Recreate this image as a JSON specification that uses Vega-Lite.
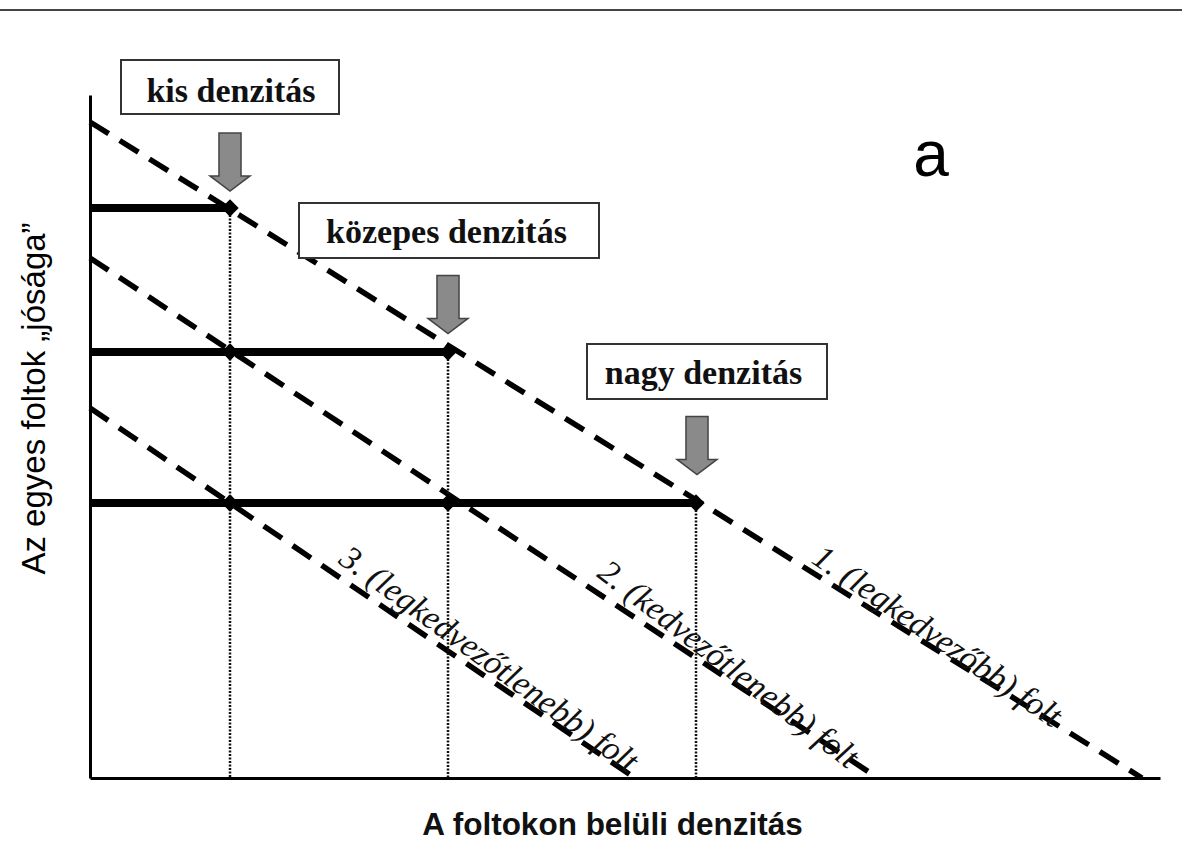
{
  "$schema": "https://vega.github.io/schema/vega-lite/v6.json",
  "width": 1070,
  "height": 683,
  "autosize": {"type": "none"},
  "padding": {"left": 90, "top": 95, "right": 22, "bottom": 72},
  "background": "white",
  "config": {
    "view": {"stroke": null},
    "axis": {"domain": true, "domainColor": "#000", "domainWidth": 3, "ticks": false, "labels": false, "grid": false, "titleFont": "Liberation Sans", "titleFontSize": 30, "titleColor": "#111"}
  },
  "datasets": {
    "lines": [
      {"curve": "1", "x": 0, "y": 65.6}, {"curve": "1", "x": 105.2, "y": 0},
      {"curve": "2", "x": 0, "y": 52}, {"curve": "2", "x": 78.8, "y": 0},
      {"curve": "3", "x": 0, "y": 37}, {"curve": "3", "x": 54.5, "y": 0}
    ],
    "levels": [
      {"x": 0, "x2": 14, "y": 57},
      {"x": 0, "x2": 35.8, "y": 42.6},
      {"x": 0, "x2": 60.6, "y": 27.5}
    ],
    "drops": [
      {"x": 14, "y": 57, "y2": 0},
      {"x": 35.8, "y": 42.6, "y2": 0},
      {"x": 60.6, "y": 27.5, "y2": 0}
    ],
    "points": [
      {"x": 14, "y": 57}, {"x": 35.8, "y": 42.6}, {"x": 60.6, "y": 27.5},
      {"x": 14, "y": 42.6}, {"x": 35.8, "y": 27.5}, {"x": 14, "y": 27.5}
    ],
    "arrows": [
      {"x": 14, "y": 61.6}, {"x": 35.8, "y": 47.35}, {"x": 60.7, "y": 33.25}
    ],
    "boxes": [
      {"label": "kis denzitás", "x": 3.1, "x2": 24.9, "y": 71.8, "y2": 66.4, "tx": 14.1, "ty": 67.6},
      {"label": "közepes denzitás", "x": 20.9, "x2": 50.9, "y": 57.5, "y2": 52.0, "tx": 35.65, "ty": 53.5},
      {"label": "nagy denzitás", "x": 49.7, "x2": 73.7, "y": 43.4, "y2": 37.9, "tx": 61.35, "ty": 39.4}
    ],
    "curvelabels": [
      {"id": "1", "label": "1. (legkedvezőbb) folt", "x": 84.7, "y": 14.1},
      {"id": "2", "label": "2. (kedvezőtlenebb) folt", "x": 63.8, "y": 11.3},
      {"id": "3", "label": "3. (legkedvezőtlenebb) folt", "x": 39.85, "y": 11.8}
    ],
    "panel": [{"label": "a", "x": 84.1, "y": 60.2}],
    "border": [{"x": -9, "x2": 109.2, "y": 76.8}]
  },
  "layer": [
    {
      "data": {"name": "lines"},
      "mark": {"type": "line", "color": "#000", "strokeWidth": 5.5, "strokeDash": [22, 13], "strokeCap": "butt"},
      "encoding": {
        "x": {"field": "x", "type": "quantitative", "scale": {"domain": [0, 107], "nice": false, "zero": false},
              "title": "A foltokon belüli denzitás",
              "axis": {"titleFontWeight": "bold", "titleFontSize": 31.5, "titleX": 522, "titleY": 47, "titleAlign": "center", "titleBaseline": "middle"}},
        "y": {"field": "y", "type": "quantitative", "scale": {"domain": [0, 68.3], "nice": false, "zero": false},
              "title": "Az egyes foltok „jósága”",
              "axis": {"titleFontWeight": "normal", "titleFontSize": 33, "titleColor": "#000", "titleAngle": -90, "titleX": -56, "titleY": 303, "titleAlign": "center", "titleBaseline": "middle"}},
        "detail": {"field": "curve", "type": "nominal"}
      }
    },
    {
      "data": {"name": "border"},
      "mark": {"type": "rule", "color": "#444", "strokeWidth": 2},
      "encoding": {
        "x": {"field": "x", "type": "quantitative"},
        "x2": {"field": "x2"},
        "y": {"field": "y", "type": "quantitative"}
      }
    },
    {
      "data": {"name": "levels"},
      "mark": {"type": "rule", "color": "#000", "strokeWidth": 8},
      "encoding": {
        "x": {"field": "x", "type": "quantitative"},
        "x2": {"field": "x2"},
        "y": {"field": "y", "type": "quantitative"}
      }
    },
    {
      "data": {"name": "drops"},
      "mark": {"type": "rule", "color": "#111", "strokeWidth": 2.5, "strokeDash": [2, 1.5]},
      "encoding": {
        "x": {"field": "x", "type": "quantitative"},
        "y": {"field": "y", "type": "quantitative"},
        "y2": {"field": "y2"}
      }
    },
    {
      "data": {"name": "points"},
      "mark": {"type": "point", "shape": "diamond", "filled": true, "color": "#000", "size": 300, "opacity": 1},
      "encoding": {
        "x": {"field": "x", "type": "quantitative"},
        "y": {"field": "y", "type": "quantitative"}
      }
    },
    {
      "data": {"name": "arrows"},
      "mark": {"type": "point", "shape": "M -0.38 -1 L 0.38 -1 L 0.38 0.48 L 0.69 0.48 L 0 1 L -0.69 0.48 L -0.38 0.48 Z", "filled": true, "fill": "#8a8a8a", "stroke": "#444", "strokeWidth": 1.5, "size": 3364, "opacity": 1},
      "encoding": {
        "x": {"field": "x", "type": "quantitative"},
        "y": {"field": "y", "type": "quantitative"}
      }
    },
    {
      "data": {"name": "boxes"},
      "mark": {"type": "rect", "fill": "white", "stroke": "#333", "strokeWidth": 2},
      "encoding": {
        "x": {"field": "x", "type": "quantitative"},
        "x2": {"field": "x2"},
        "y": {"field": "y", "type": "quantitative"},
        "y2": {"field": "y2"}
      }
    },
    {
      "data": {"name": "boxes"},
      "mark": {"type": "text", "font": "Liberation Serif", "fontWeight": "bold", "fontSize": 34, "color": "#111", "align": "center", "baseline": "alphabetic"},
      "encoding": {
        "x": {"field": "tx", "type": "quantitative"},
        "y": {"field": "ty", "type": "quantitative"},
        "text": {"field": "label"}
      }
    },
    {
      "data": {"name": "curvelabels"},
      "transform": [{"filter": "datum.id === '1'"}],
      "mark": {"type": "text", "font": "Liberation Serif", "fontStyle": "italic", "fontSize": 34, "color": "#111", "align": "center", "baseline": "middle", "angle": 34.5},
      "encoding": {
        "x": {"field": "x", "type": "quantitative"},
        "y": {"field": "y", "type": "quantitative"},
        "text": {"field": "label"}
      }
    },
    {
      "data": {"name": "curvelabels"},
      "transform": [{"filter": "datum.id === '2'"}],
      "mark": {"type": "text", "font": "Liberation Serif", "fontStyle": "italic", "fontSize": 34, "color": "#111", "align": "center", "baseline": "middle", "angle": 37.5},
      "encoding": {
        "x": {"field": "x", "type": "quantitative"},
        "y": {"field": "y", "type": "quantitative"},
        "text": {"field": "label"}
      }
    },
    {
      "data": {"name": "curvelabels"},
      "transform": [{"filter": "datum.id === '3'"}],
      "mark": {"type": "text", "font": "Liberation Serif", "fontStyle": "italic", "fontSize": 34, "color": "#111", "align": "center", "baseline": "middle", "angle": 36},
      "encoding": {
        "x": {"field": "x", "type": "quantitative"},
        "y": {"field": "y", "type": "quantitative"},
        "text": {"field": "label"}
      }
    },
    {
      "data": {"name": "panel"},
      "mark": {"type": "text", "font": "Liberation Sans", "fontSize": 64, "color": "#000", "align": "center", "baseline": "alphabetic"},
      "encoding": {
        "x": {"field": "x", "type": "quantitative"},
        "y": {"field": "y", "type": "quantitative"},
        "text": {"field": "label"}
      }
    }
  ]
}
